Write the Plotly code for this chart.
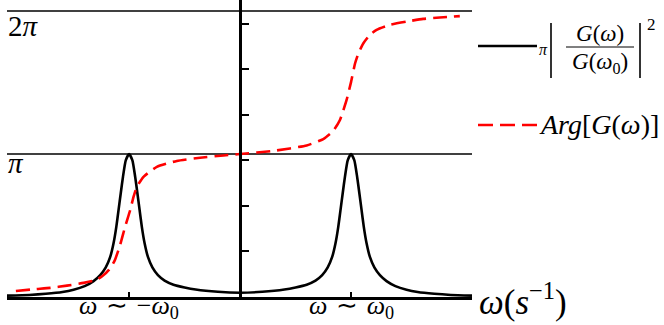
import numpy as np
import plotly.graph_objects as go

# ---- data (omega in units of omega_0) ----
omega_mag = [-2.1, -1.9, -1.75, -1.6, -1.5, -1.4, -1.32, -1.26, -1.21, -1.17, -1.14, -1.115,
             -1.095, -1.075, -1.055, -1.03, -1.0, -0.97, -0.945, -0.925, -0.905, -0.885,
             -0.86, -0.83, -0.79, -0.74, -0.68, -0.6, -0.5, -0.4, -0.2, 0.0,
             0.2, 0.4, 0.5, 0.6, 0.68, 0.74, 0.79, 0.83, 0.86, 0.885, 0.905, 0.925,
             0.945, 0.97, 1.0, 1.03, 1.055, 1.075, 1.095, 1.115, 1.14, 1.17, 1.21,
             1.26, 1.32, 1.4, 1.5, 1.6, 1.75, 1.9, 2.09]
mag = [0.03, 0.045, 0.07, 0.11, 0.16, 0.24, 0.35, 0.48, 0.65, 0.88, 1.18, 1.54,
       1.91, 2.28, 2.64, 3.00, 3.14, 3.00, 2.64, 2.28, 1.91, 1.54,
       1.18, 0.88, 0.65, 0.48, 0.36, 0.27, 0.21, 0.165, 0.115, 0.095,
       0.115, 0.165, 0.21, 0.27, 0.36, 0.48, 0.65, 0.88, 1.18, 1.54, 1.91, 2.28,
       2.64, 3.00, 3.14, 3.00, 2.64, 2.28, 1.91, 1.54, 1.18, 0.88, 0.65,
       0.48, 0.35, 0.24, 0.16, 0.11, 0.07, 0.045, 0.03]

omega_arg = [-2.02, -1.86, -1.71, -1.56, -1.41, -1.30, -1.24, -1.18, -1.13, -1.08, -1.036,
             -0.99, -0.96, -0.93, -0.87, -0.75, -0.57, -0.36, -0.15, 0.0,
             0.30, 0.60, 0.75, 0.84, 0.90, 0.96, 1.0, 1.036, 1.066, 1.11, 1.17,
             1.23, 1.35, 1.50, 1.65, 1.80, 1.98]
arg = [0.13, 0.17, 0.20, 0.25, 0.31, 0.37, 0.46, 0.60, 0.80, 1.15, 1.54,
       1.91, 2.20, 2.42, 2.64, 2.86, 2.99, 3.06, 3.11, 3.14,
       3.21, 3.33, 3.47, 3.65, 3.89, 4.33, 4.72, 5.13, 5.35, 5.57, 5.76,
       5.87, 5.98, 6.05, 6.11, 6.14, 6.17]

xtick_vals = [-1, 1]
xtick_text = ["<i>ω</i>\u2004∼\u2004−<i>ω</i><sub>0</sub>",
              "<i>ω</i>\u2004∼\u2004<i>ω</i><sub>0</sub>"]
ytick_vals = [1, 2, 3, 4, 5, 6]
ref_lines = [np.pi, 2 * np.pi]

W, H = 664, 325
FONT = "Liberation Serif"


def px(x):
    return x / W


def py(y):
    return 1 - y / H


fig = go.Figure()
fig.add_trace(go.Scatter(x=omega_mag, y=mag, mode="lines",
                         line=dict(color="black", width=2.6, shape="spline", smoothing=0.5),
                         showlegend=False, hoverinfo="skip"))
fig.add_trace(go.Scatter(x=omega_arg, y=arg, mode="lines",
                         line=dict(color="#ff0000", width=2.6, dash="14px,7px",
                                   shape="spline", smoothing=0.5),
                         showlegend=False, hoverinfo="skip"))

shapes = []
for v in ref_lines:
    shapes.append(dict(type="line", xref="x domain", yref="y", x0=0, x1=1, y0=v, y1=v,
                       line=dict(color="black", width=1.3), layer="below"))
# legend samples
shapes.append(dict(type="line", xref="paper", yref="paper", x0=px(478), x1=px(537),
                   y0=py(46), y1=py(46), line=dict(color="black", width=2.6)))
shapes.append(dict(type="line", xref="paper", yref="paper", x0=px(478), x1=px(537),
                   y0=py(125), y1=py(125), line=dict(color="#ff0000", width=2.6, dash="15px,7px")))
# fraction bars
for xb in (551, 640):
    shapes.append(dict(type="line", xref="paper", yref="paper", x0=px(xb), x1=px(xb),
                       y0=py(23), y1=py(78), line=dict(color="black", width=1.6)))
shapes.append(dict(type="line", xref="paper", yref="paper", x0=px(566), x1=px(634),
                   y0=py(47), y1=py(47), line=dict(color="black", width=1.0)))

ann = []


def text(x, y, t, size, xanchor="center", yanchor="middle", xref="paper"):
    ann.append(dict(x=px(x) if xref == "paper" else x, y=py(y), xref=xref, yref="paper",
                    text=t, showarrow=False, xanchor=xanchor, yanchor=yanchor,
                    font=dict(family=FONT, size=size, color="black")))


text(6, 26, "2<i>π</i>", 29, xanchor="left")
text(6, 163, "<i>π</i>", 29, xanchor="left")
text(543, 49, "<i>π</i>", 16)
text(600, 33, "<i>G</i>(<i>ω</i>)", 23)
text(600, 63, "<i>G</i>(<i>ω</i><sub>0</sub>)", 23)
text(651, 24, "2", 17)
text(537, 125, "<i>Arg</i>[<i>G</i>(<i>ω</i>)]", 28, xanchor="left")
text(477, 299, "<i>ω</i>(<i>s</i><sup>−1</sup>)", 35, xanchor="left")
for v, t in zip(xtick_vals, xtick_text):
    text(v, 307, t, 26, xref="x")

fig.update_layout(
    width=W, height=H, margin=dict(l=0, r=0, t=0, b=0, autoexpand=False),
    plot_bgcolor="white", paper_bgcolor="white",
    shapes=shapes, annotations=ann,
    xaxis=dict(domain=[px(7), px(472)], range=[-2.1, 2.09], showgrid=False, zeroline=False,
               showline=True, linecolor="black", linewidth=2.6, automargin=False,
               tickvals=xtick_vals, ticks="inside", ticklen=5, showticklabels=False,
               tickwidth=2, tickcolor="black", anchor="y"),
    yaxis=dict(domain=[28 / H, 1], range=[0, 297 / (143 / np.pi)], showgrid=False,
               zeroline=False, showline=True, linecolor="black", linewidth=2.6,
               anchor="free", position=px(240), side="right", automargin=False,
               tickvals=ytick_vals, ticks="outside", ticklen=7, tickwidth=2,
               tickcolor="black", showticklabels=False),
)

fig.write_html("out.html", config={"displayModeBar": False},
               post_script="document.body.style.margin='0';document.body.style.padding='0';")
